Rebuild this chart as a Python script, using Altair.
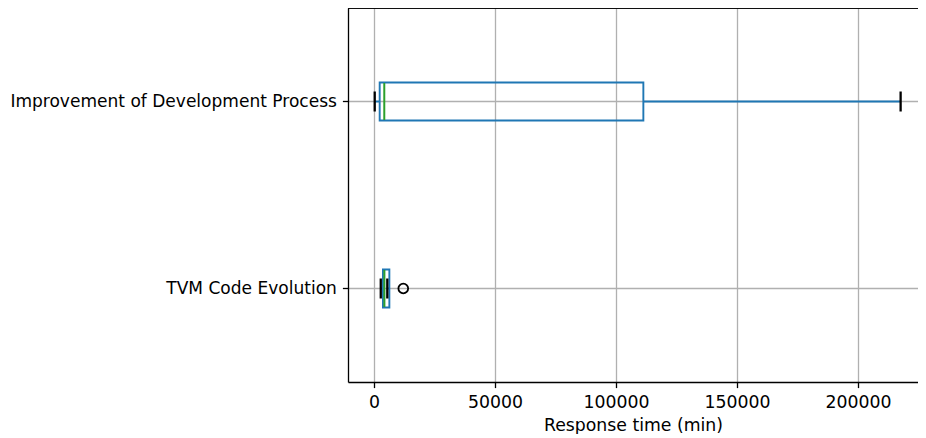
import altair as alt
import pandas as pd

# Categories top-to-bottom
categories = ["Improvement of Development Process", "TVM Code Evolution"]
whisker_low = [300, 2800]
q1 = [2350, 3700]
median = [4250, 4300]
q3 = [111300, 6350]
whisker_high = [217600, 5500]

outlier_category = ["TVM Code Evolution"]
outlier_value = [12100]

x_ticks = [0, 50000, 100000, 150000, 200000]
x_domain = [-10740, 224780]

stats = pd.DataFrame({
    "cat": categories,
    "lo": whisker_low,
    "q1": q1,
    "med": median,
    "q3": q3,
    "hi": whisker_high,
})
outliers = pd.DataFrame({"cat": outlier_category, "v": outlier_value})

FONT = "DejaVu Sans"
BLUE = "#1f77b4"
W, H = 570, 374

xscale = alt.Scale(domain=x_domain, nice=False, zero=False)
yenc = alt.Y("cat:N", sort=categories,
             scale=alt.Scale(paddingInner=0, paddingOuter=0),
             axis=alt.Axis(title=None, bandPosition=0.5, grid=True, labelLimit=500,
                           labelFontSize=17.05))

xaxis = alt.Axis(values=x_ticks, title="Response time (min)", format="d", grid=True)

base = alt.Chart(stats)

whisk_low = base.mark_rule(color=BLUE, strokeWidth=1.9).encode(
    x=alt.X("lo:Q", scale=xscale, axis=xaxis), x2="q1:Q", y=yenc)
whisk_high = base.mark_rule(color=BLUE, strokeWidth=1.9).encode(
    x=alt.X("q3:Q", scale=xscale), x2="hi:Q", y=yenc)
box = base.mark_bar(fill="white", fillOpacity=0, stroke=BLUE, strokeWidth=1.9, height=38).encode(
    x=alt.X("q1:Q", scale=xscale), x2="q3:Q", y=yenc)
med = base.mark_tick(color="#2ca02c", thickness=2, size=37, opacity=1).encode(
    x=alt.X("med:Q", scale=xscale), y=yenc)
cap_lo = base.mark_tick(color="black", thickness=2.3, size=20, opacity=1).encode(
    x=alt.X("lo:Q", scale=xscale), y=yenc)
cap_hi = base.mark_tick(color="black", thickness=2.3, size=20, opacity=1).encode(
    x=alt.X("hi:Q", scale=xscale), y=yenc)
out = alt.Chart(outliers).mark_point(shape="circle", filled=False, color="black",
                                     size=95, strokeWidth=1.8, opacity=1).encode(
    x=alt.X("v:Q", scale=xscale), y=yenc)
# top frame line (right side of frame is cut off in the reference)
top_frame = alt.Chart(stats).mark_rule(color="black", strokeWidth=1.3).encode(
    x=alt.value(0), x2=alt.value(W), y=alt.value(0))

chart = alt.layer(whisk_low, whisk_high, box, med, cap_lo, cap_hi, out, top_frame).properties(
    width=W, height=H,
    autosize=alt.AutoSizeParams(type="none"),
    padding={"left": 340, "top": 0, "right": 0, "bottom": 52},
).configure_view(
    strokeWidth=0
).configure_axis(
    domain=True, domainColor="black", domainWidth=1.3,
    gridColor="#b0b0b0", gridWidth=1.3,
    tickColor="black", tickSize=5.6, tickWidth=1.3,
    labelFont=FONT, labelFontSize=17.3, labelColor="black",
    titleFont=FONT, titleFontSize=17.3, titleColor="black", titleFontWeight="normal",
    labelPadding=6,
).configure_axisX(
    titlePadding=6,
).configure_axisY(
    labelPadding=6,
)

chart.save("out.html", embed_options={"renderer": "svg", "actions": False})
